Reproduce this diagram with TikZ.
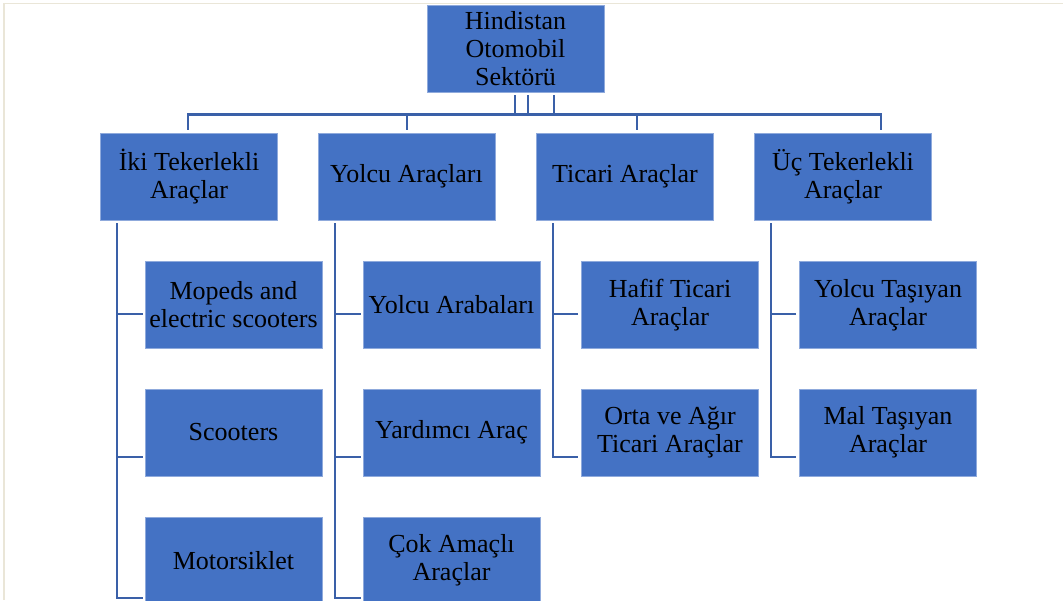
\documentclass[tikz,border=0pt]{standalone}
\usepackage{fontspec}
\setmainfont{Liberation Serif}
\definecolor{boxfill}{HTML}{4472C4}
\definecolor{boxedge}{HTML}{8FAADC}
\definecolor{connblue}{HTML}{3A60A8}
\definecolor{framecol}{HTML}{EAE6D8}
\tikzset{
  orgbox/.style={rectangle, fill=boxfill, draw=boxedge, line width=0.6pt,
    minimum width=177pt, minimum height=87pt, inner sep=2pt,
    align=center, text=black, font=\fontsize{26}{28}\selectfont},
  conn/.style={draw=connblue, line width=2.6pt},
}
\begin{document}
\begin{tikzpicture}[x=1pt,y=-1pt]
\useasboundingbox (0,0) rectangle (1063,600);
\clip (0,0) rectangle (1063,600);
\fill[white] (0,0) rectangle (1063,600);
\draw[framecol, line width=1.8pt] (4,600) -- (4,3.5) -- (1063,3.5);

% root
\node[orgbox] (root) at (515.5,48.5) {Hindistan\\Otomobil\\Sektörü};

% level 2
\node[orgbox] (iki) at (189,176.5) {İki Tekerlekli\\Araçlar};
\node[orgbox] (yol) at (406.5,176.5) {Yolcu Araçları};
\node[orgbox] (tic) at (625,176.5) {Ticari Araçlar};
\node[orgbox] (uc) at (843,176.5) {Üç Tekerlekli\\Araçlar};

% level 3
\node[orgbox] (mop) at (233.5,305) {Mopeds and\\electric scooters};
\node[orgbox] (sco) at (233.5,432.5) {Scooters};
\node[orgbox] (mot) at (233.5,560.5) {Motorsiklet};

\node[orgbox] (yar) at (451.5,305) {Yolcu Arabaları};
\node[orgbox] (yrd) at (451.5,432.5) {Yardımcı Araç};
\node[orgbox] (cok) at (451.5,560.5) {Çok Amaçlı\\Araçlar};

\node[orgbox] (haf) at (670,305) {Hafif Ticari\\Araçlar};
\node[orgbox] (ort) at (670,432.5) {Orta ve Ağır\\Ticari Araçlar};

\node[orgbox] (ytas) at (888,305) {Yolcu Taşıyan\\Araçlar};
\node[orgbox] (mtas) at (888,432.5) {Mal Taşıyan\\Araçlar};

% bus from root
\draw[conn] ([xshift=-0.5pt,yshift=-3pt]root.south) -- ++(0,-20pt);
\draw[conn] ([xshift=12.5pt,yshift=-3pt]root.south) -- ++(0,-20pt);
\draw[conn] ([xshift=38.5pt,yshift=-3pt]root.south) -- ++(0,-20pt);
\draw[conn] ([xshift=-1pt,yshift=3pt]iki.north) |- ([xshift=38pt,yshift=18pt]uc.north) -- ([xshift=38pt,yshift=3pt]uc.north);
\draw[conn] ([xshift=0.5pt,yshift=3pt]yol.north) -- ++(0,15pt);
\draw[conn] ([xshift=12pt,yshift=3pt]tic.north) -- ++(0,15pt);

% İki Tekerlekli children
\draw[conn] ([xshift=-72pt,yshift=-3pt]iki.south) |- ([xshift=-2pt,yshift=-37.5pt]mot.west);
\draw[conn] ([xshift=-2pt,yshift=-9pt]mop.west) -- ++(-26pt,0);
\draw[conn] ([xshift=-2pt,yshift=-24.5pt]sco.west) -- ++(-26pt,0);

% Yolcu children
\draw[conn] ([xshift=-71.5pt,yshift=-3pt]yol.south) |- ([xshift=-2pt,yshift=-37.5pt]cok.west);
\draw[conn] ([xshift=-2pt,yshift=-9pt]yar.west) -- ++(-26pt,0);
\draw[conn] ([xshift=-2pt,yshift=-24.5pt]yrd.west) -- ++(-26pt,0);

% Ticari children
\draw[conn] ([xshift=-72pt,yshift=-3pt]tic.south) |- ([xshift=-3pt,yshift=-24.5pt]ort.west);
\draw[conn] ([xshift=-3pt,yshift=-9pt]haf.west) -- ++(-26pt,0);

% Üç children
\draw[conn] ([xshift=-72pt,yshift=-3pt]uc.south) |- ([xshift=-3pt,yshift=-24.5pt]mtas.west);
\draw[conn] ([xshift=-3pt,yshift=-9pt]ytas.west) -- ++(-25pt,0);
\end{tikzpicture}
\end{document}
